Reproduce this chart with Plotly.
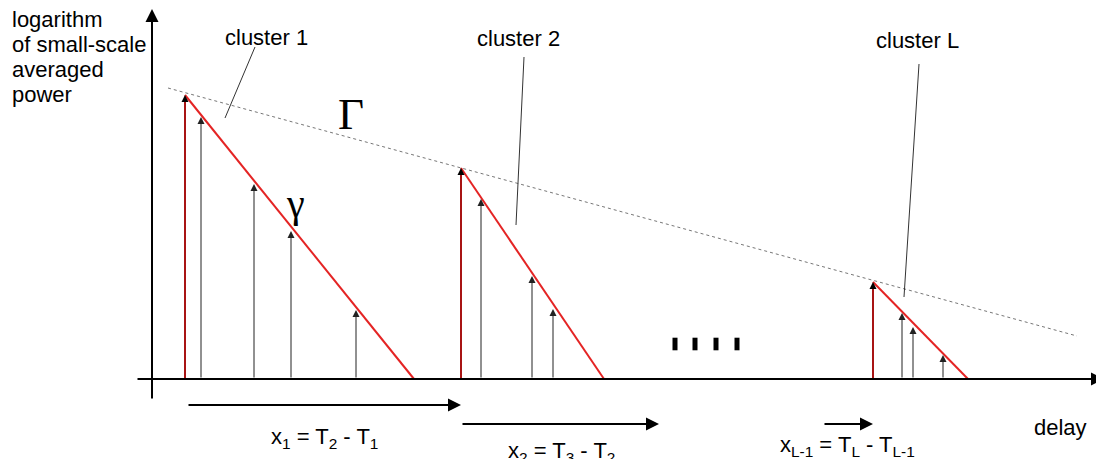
import plotly.graph_objects as go

# ---- data (x = delay, y = log of small-scale averaged power; arbitrary units) ----
cluster_delays = [33, 309, 721]
cluster_peaks = [284, 211, 97]
cluster_ends = [262, 452, 816]
ray_delays = [[49, 102, 139, 204], [329, 380, 401], [750, 761, 791]]
ray_powers = [[262, 195, 148, 69], [180, 103, 70], [66, 52, 24]]

gamma_x = [16, 925]
gamma_y = [291, 43]

cluster_labels = ["cluster 1", "cluster 2", "cluster L"]
label_x = [114, 366, 765]
label_y = [342, 341, 339]
leader_x0 = [103, 372, 767]
leader_y0 = [332, 322, 315]
leader_x1 = [73, 364, 752]
leader_y1 = [261, 154, 82]

gap_starts = [35, 309, 671]
gap_ends = [309, 507, 721]
gap_y = [-26, -45, -45]
gap_texts = ["x<sub>1</sub> = T<sub>2</sub> - T<sub>1</sub>",
             "x<sub>2</sub> = T<sub>3</sub> - T<sub>2</sub>",
             "x<sub>L-1</sub> = T<sub>L</sub> - T<sub>L-1</sub>"]
gap_text_x = [172, 409, 695]
gap_text_y = [-59, -73, -67]

ellipsis_x = [523, 543, 564, 585]
ellipsis_y = [35, 35, 35, 35]

ylabel_lines = ["logarithm", "of small-scale", "averaged", "power"]
ylabel_y = [360, 335, 310, 285]

axis_x = [-16, 952]
axis_y = [-21, 370]

fig = go.Figure()
FONT = "Liberation Sans, Arial, sans-serif"
SERIF = "Liberation Serif, Times New Roman, serif"
annotations = []

# Gamma (inter-cluster decay) dotted line
fig.add_trace(go.Scatter(x=gamma_x, y=gamma_y, mode="lines",
                         line=dict(color="#777777", width=1, dash="dot"),
                         hoverinfo="skip", showlegend=False))

# clusters
for T, P, E, rd, rp in zip(cluster_delays, cluster_peaks, cluster_ends, ray_delays, ray_powers):
    fig.add_trace(go.Scatter(x=[T, T], y=[0, P - 5], mode="lines",
                             line=dict(color="#a81414", width=2),
                             hoverinfo="skip", showlegend=False))
    annotations.append(dict(x=T, y=P, ax=T, ay=P - 6, xref="x", yref="y", axref="x", ayref="y",
                            text="", showarrow=True, arrowhead=2, arrowsize=1.4,
                            arrowwidth=1, arrowcolor="black"))
    fig.add_trace(go.Scatter(x=[T, E], y=[P, 0], mode="lines",
                             line=dict(color="#e42424", width=2),
                             hoverinfo="skip", showlegend=False))
    for d, p in zip(rd, rp):
        annotations.append(dict(x=d, y=p, ax=d, ay=0, xref="x", yref="y", axref="x", ayref="y",
                                text="", showarrow=True, arrowhead=2, arrowsize=1.4,
                                arrowwidth=1, arrowcolor="#222222"))

# axes
annotations.append(dict(x=0, y=axis_y[1], ax=0, ay=axis_y[0], xref="x", yref="y", axref="x", ayref="y",
                        text="", showarrow=True, arrowhead=2, arrowsize=1.3, arrowwidth=2,
                        arrowcolor="black"))
annotations.append(dict(x=axis_x[1], y=0, ax=axis_x[0], ay=0, xref="x", yref="y", axref="x", ayref="y",
                        text="", showarrow=True, arrowhead=2, arrowsize=1.3, arrowwidth=2,
                        arrowcolor="black"))

# inter-arrival arrows and labels
for s, e, yy, t, tx, ty in zip(gap_starts, gap_ends, gap_y, gap_texts, gap_text_x, gap_text_y):
    annotations.append(dict(x=e, y=yy, ax=s, ay=yy, xref="x", yref="y", axref="x", ayref="y",
                            text="", showarrow=True, arrowhead=2, arrowsize=1.3, arrowwidth=2,
                            arrowcolor="black"))
    annotations.append(dict(x=tx, y=ty, xref="x", yref="y", text=t, showarrow=False,
                            font=dict(family=FONT, size=22, color="black")))

# cluster labels and leader lines
for lab, lx, ly, x0, y0, x1, y1 in zip(cluster_labels, label_x, label_y,
                                        leader_x0, leader_y0, leader_x1, leader_y1):
    annotations.append(dict(x=lx, y=ly, xref="x", yref="y", text=lab, showarrow=False,
                            font=dict(family=FONT, size=22, color="black")))
    fig.add_trace(go.Scatter(x=[x0, x1], y=[y0, y1], mode="lines",
                             line=dict(color="#333333", width=1),
                             hoverinfo="skip", showlegend=False))

# ellipsis
fig.add_trace(go.Scatter(x=ellipsis_x, y=ellipsis_y, mode="markers",
                         marker=dict(symbol="line-ns", size=9, line=dict(width=5, color="black")),
                         hoverinfo="skip", showlegend=False))

# Greek letters
annotations.append(dict(x=199, y=265, xref="x", yref="y", text="\u0393", showarrow=False,
                        font=dict(family=SERIF, size=45, color="black")))
annotations.append(dict(x=143, y=176, xref="x", yref="y", text="\u03b3", showarrow=False,
                        font=dict(family=SERIF, size=40, color="black")))

# y label
for line, yy in zip(ylabel_lines, ylabel_y):
    annotations.append(dict(x=-142, y=yy, xref="x", yref="y", text=line, showarrow=False,
                            xanchor="left", font=dict(family=FONT, size=22, color="black")))

# x label
annotations.append(dict(x=908, y=-48, xref="x", yref="y", text="delay", showarrow=False,
                        font=dict(family=FONT, size=22, color="black")))

# page body has an 8px margin: figure is placed at (8, 8) and sized to fit the window
fig.update_layout(
    width=1096, height=451,
    margin=dict(l=0, r=0, t=0, b=0),
    paper_bgcolor="white", plot_bgcolor="white",
    xaxis=dict(range=[-144, 952], visible=False, fixedrange=True),
    yaxis=dict(range=[-80, 371], visible=False, fixedrange=True),
    annotations=annotations,
    showlegend=False,
)

fig.write_html("out.html")
